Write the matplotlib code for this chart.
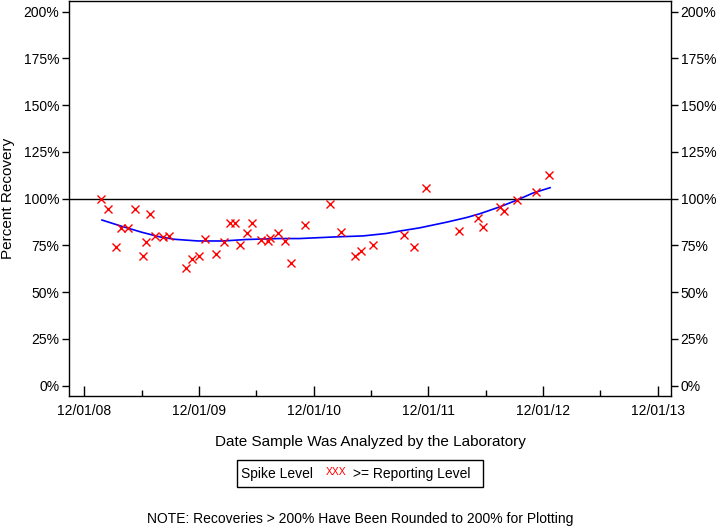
import matplotlib
matplotlib.use("Agg")
import matplotlib.pyplot as plt
import matplotlib.dates as mdates
from matplotlib.patches import Rectangle
import numpy as np

plt.rcParams['font.family'] = ['Liberation Sans', 'DejaVu Sans']

# Sample analysis dates and percent recoveries
sample_dates = [
    "2009-01-22", "2009-02-14", "2009-03-12", "2009-03-27", "2009-04-19",
    "2009-05-12", "2009-06-06", "2009-06-15", "2009-06-28", "2009-07-15",
    "2009-08-08", "2009-08-27", "2009-10-20", "2009-11-09", "2009-12-02",
    "2009-12-21", "2010-01-24", "2010-02-17", "2010-03-10", "2010-03-25",
    "2010-04-10", "2010-05-03", "2010-05-19", "2010-06-15", "2010-07-08",
    "2010-07-16", "2010-08-09", "2010-08-31", "2010-09-20", "2010-11-03",
    "2011-01-21", "2011-02-27", "2011-04-12", "2011-05-01", "2011-06-08",
    "2011-09-14", "2011-10-16", "2011-11-24", "2012-03-08", "2012-05-07",
    "2012-05-23", "2012-07-18", "2012-07-29", "2012-09-08", "2012-11-07",
    "2012-12-21",
]
recovery_pct = [
    99.6, 94.3, 74.2, 84.4, 84.4,
    94.3, 69.4, 77.1, 92.0, 79.8,
    79.6, 79.9, 63.2, 67.5, 69.4,
    78.2, 70.7, 76.7, 87.2, 87.2,
    75.0, 81.9, 87.2, 77.8, 77.5,
    79.0, 81.5, 77.4, 65.4, 86.0,
    97.4, 82.1, 69.4, 72.3, 75.1,
    80.6, 74.3, 105.9, 82.8, 89.8,
    85.1, 95.4, 93.3, 99.5, 103.6,
    112.9,
]

# Smoothed trend curve
trend_dates = [
    "2009-01-26", "2009-03-27", "2009-06-01", "2009-07-29", "2009-09-14",
    "2009-11-28", "2010-02-15", "2010-05-01", "2010-08-15", "2010-10-17",
    "2011-02-11", "2011-05-07", "2011-07-20", "2011-09-01", "2011-11-03",
    "2012-01-27", "2012-03-31", "2012-05-12", "2012-07-15", "2012-09-06",
    "2012-10-29", "2012-12-23",
]
trend_pct = [
    88.6, 85.4, 82.1, 79.6, 78.3,
    77.4, 77.4, 78.2, 78.7, 78.7,
    79.6, 80.1, 81.4, 82.7, 84.4,
    87.4, 89.9, 91.9, 95.6, 99.1,
    103.0, 105.9,
]

x_tick_dates = ["2008-12-01", "2009-12-01", "2010-12-01", "2011-12-01", "2012-12-01", "2013-12-01"]
x_tick_labels = ["12/01/08", "12/01/09", "12/01/10", "12/01/11", "12/01/12", "12/01/13"]
x_minor_dates = ["2009-06-01", "2010-06-01", "2011-06-01", "2012-06-01", "2013-06-01"]
y_ticks = [0, 25, 50, 75, 100, 125, 150, 175, 200]
y_tick_labels = ["0%", "25%", "50%", "75%", "100%", "125%", "150%", "175%", "200%"]

def to_num(ds):
    return mdates.date2num(np.array(ds, dtype="datetime64[D]"))

fig = plt.figure(figsize=(7.2, 5.28), dpi=100)
ax = fig.add_axes([69 / 720, 0.25, (671 - 69) / 720, 0.75 - 0.5 / 528])

ax.axhline(100, color="black", lw=1.0, zorder=1)
ax.plot(to_num(trend_dates), trend_pct, color="blue", lw=1.2, zorder=2)
ax.plot(to_num(sample_dates), recovery_pct, linestyle="none", marker="x",
        color="red", markersize=5.5, mew=1.0, zorder=3)

ax.set_xlim(to_num(["2008-10-13"])[0], to_num(["2014-01-12"])[0])
ax.set_ylim(-5.5, 206)

ax.set_xticks(to_num(x_tick_dates))
ax.set_xticklabels(x_tick_labels)
ax.set_xticks(to_num(x_minor_dates), minor=True)
ax.tick_params(axis="x", which="major", direction="in", length=7, width=1,
               labelsize=10, pad=6, top=False)
ax.tick_params(axis="x", which="minor", direction="in", length=4, width=1, top=False)

ax.set_yticks(y_ticks)
ax.set_yticklabels(y_tick_labels)
ax.tick_params(axis="y", which="major", direction="out", length=5, width=1,
               labelsize=10, left=True, right=True, labelleft=True, labelright=True, pad=2)

for s in ax.spines.values():
    s.set_linewidth(1.0)
    s.set_color("black")

ax.set_xlabel("Date Sample Was Analyzed by the Laboratory", fontsize=11, labelpad=12)
ax.set_ylabel("Percent Recovery", fontsize=11, labelpad=6)

# Legend box
fig.patches.append(Rectangle((237 / 720, 1 - 487 / 528), (483 - 237) / 720, 27 / 528,
                             transform=fig.transFigure, fill=False, edgecolor="black", lw=1))
ly = 1 - 474 / 528
fig.text(241 / 720, ly, "Spike Level", fontsize=10, va="center", ha="left")
fig.text(326 / 720, ly + 2 / 528, "XXX", fontsize=7.5, color="red", va="center", ha="left")
fig.text(353 / 720, ly, ">= Reporting Level", fontsize=10, va="center", ha="left")

fig.text(0.5, 1 - 519 / 528, "NOTE: Recoveries > 200% Have Been Rounded to 200% for Plotting",
         fontsize=10, ha="center", va="center")

fig.savefig("out.png", dpi=100)
